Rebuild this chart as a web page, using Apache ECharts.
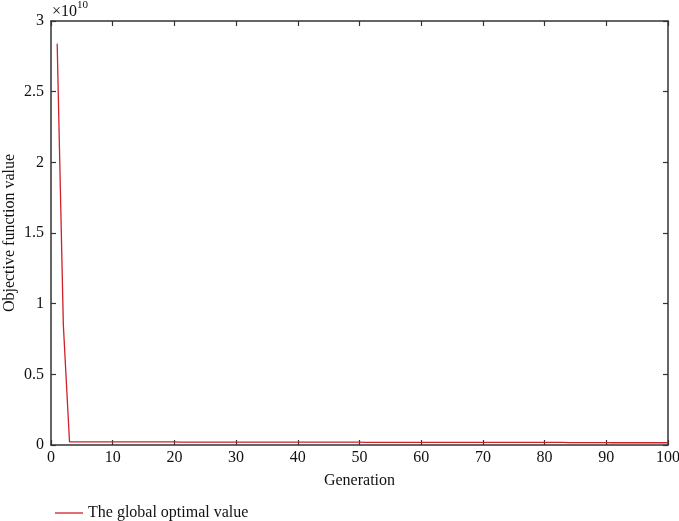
<!DOCTYPE html>
<html><head><meta charset="utf-8">
<script src="https://cdn.jsdelivr.net/npm/echarts@6/dist/echarts.min.js"></script>
<style>html,body{margin:0;padding:0;background:#fff}#c{width:679px;height:521px}</style>
</head><body><div id="c"></div>
<script>
// Objective function value in units of 1e10, generations 1..100
const generations = [];
for (let g = 1; g <= 100; g++) generations.push(g);
const objectiveValues = [
  2.84, 0.85, 0.022, 0.022, 0.022, 0.022, 0.022, 0.022, 0.022, 0.022,
  0.022, 0.022, 0.022, 0.022, 0.022, 0.022, 0.022, 0.022, 0.022, 0.022,
  0.021, 0.021, 0.021, 0.021, 0.021, 0.021, 0.021, 0.021, 0.021, 0.021,
  0.021, 0.021, 0.020, 0.020, 0.020, 0.020, 0.020, 0.020, 0.020, 0.020,
  0.020, 0.020, 0.020, 0.020, 0.020, 0.020, 0.020, 0.020, 0.020, 0.020,
  0.019, 0.019, 0.019, 0.019, 0.019, 0.019, 0.019, 0.019, 0.019, 0.019,
  0.019, 0.019, 0.019, 0.019, 0.019, 0.019, 0.019, 0.019, 0.019, 0.019,
  0.018, 0.018, 0.018, 0.018, 0.018, 0.018, 0.018, 0.018, 0.018, 0.018,
  0.018, 0.018, 0.018, 0.017, 0.017, 0.017, 0.017, 0.017, 0.017, 0.017,
  0.016, 0.016, 0.016, 0.016, 0.016, 0.016, 0.016, 0.016, 0.016, 0.016
];
const xTicks = [0, 10, 20, 30, 40, 50, 60, 70, 80, 90, 100];
const yTicks = [0, 0.5, 1, 1.5, 2, 2.5, 3];
const seriesName = 'The global optimal value';

const font = '"Liberation Serif", "DejaVu Serif", serif';
const axisCol = '#333';
const red = '#d0202a';
const chart = echarts.init(document.getElementById('c'));
function frameAxis() {
  return {
    axisLine: {show: true, onZero: false, lineStyle: {color: axisCol, width: 1.5}},
    axisTick: {show: true, inside: true, length: 5, lineStyle: {color: axisCol, width: 1.2}},
    splitLine: {show: false}
  };
}
chart.setOption({
  animation: false,
  backgroundColor: '#fff',
  textStyle: {fontFamily: font},
  grid: {left: 51, right: 11, top: 21, bottom: 76, containLabel: false, outerBoundsMode: 'none'},
  xAxis: [
    Object.assign({type: 'value', min: xTicks[0], max: xTicks[xTicks.length-1], interval: 10,
      name: 'Generation', nameLocation: 'middle', nameGap: 28, nameMoveOverlap: false,
      nameTextStyle: {fontFamily: font, fontSize: 16, color: '#111'},
      axisLabel: {fontFamily: font, fontSize: 16, color: '#111', margin: 5}}, frameAxis()),
    Object.assign({type: 'value', position: 'top', min: xTicks[0], max: xTicks[xTicks.length-1], interval: 10,
      axisLabel: {show: false}}, frameAxis())
  ],
  yAxis: [
    Object.assign({type: 'value', min: yTicks[0], max: yTicks[yTicks.length-1], interval: 0.5,
      name: 'Objective function value', nameLocation: 'middle', nameGap: 33, nameMoveOverlap: false,
      nameTextStyle: {fontFamily: font, fontSize: 16, color: '#111'},
      axisLabel: {fontFamily: font, fontSize: 16, color: '#111', margin: 7,
        formatter: v => String(v)}}, frameAxis()),
    Object.assign({type: 'value', position: 'right', min: yTicks[0], max: yTicks[yTicks.length-1], interval: 0.5,
      axisLabel: {show: false}}, frameAxis())
  ],
  legend: {
    left: 50, top: 500, itemWidth: 28, itemHeight: 10, itemGap: 7,
    icon: 'rect',
    textStyle: {fontFamily: font, fontSize: 16, color: '#111'},
    data: [{name: seriesName, icon: 'path://M0,0 L28,0 L28,1.3 L0,1.3 Z', itemStyle: {color: red}}]
  },
  graphic: [{
    type: 'text', left: 52, top: 0,
    style: {
      text: '{a|×10}{b|10}',
      rich: {
        a: {fontFamily: font, fontSize: 16, fill: '#111', verticalAlign: 'bottom', lineHeight: 20},
        b: {fontFamily: font, fontSize: 11, fill: '#111', verticalAlign: 'top', lineHeight: 20, padding: [0,0,8,0]}
      }
    }
  }],
  series: [{
    name: seriesName, type: 'line', xAxisIndex: 0, yAxisIndex: 0,
    data: generations.map((g, i) => [g, objectiveValues[i]]),
    showSymbol: false, symbol: 'none',
    lineStyle: {color: red, width: 1.3},
    itemStyle: {color: red}
  }]
});
</script></body></html>
